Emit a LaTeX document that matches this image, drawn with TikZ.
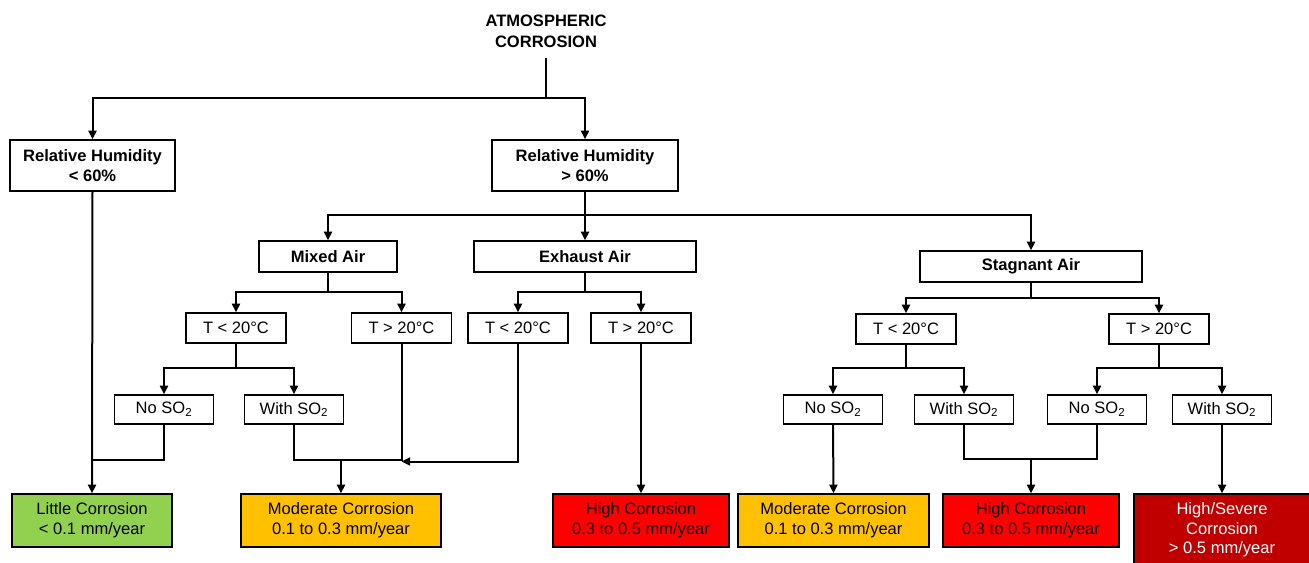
\documentclass[tikz,border=0pt]{standalone}
\usepackage{fontspec}
\setmainfont{Liberation Sans}
\usetikzlibrary{arrows.meta}
\definecolor{cgreen}{HTML}{92D050}
\definecolor{corange}{HTML}{FFC000}
\definecolor{cred}{HTML}{FF0000}
\definecolor{cdred}{HTML}{C00000}
\begin{document}
\begin{tikzpicture}[x=0.75pt,y=-0.75pt,
  every node/.style={font=\fontsize{12.4}{15}\selectfont, align=center, inner sep=0pt},
  box/.style={draw, line width=1pt, minimum width=75pt, minimum height=22.5pt},
  bbox/.style={box, font=\fontsize{12.4}{15}\selectfont\bfseries},
  sobox/.style={box, minimum width=74.5pt, minimum height=21.75pt},
  res/.style={box, minimum height=39.75pt},
  line/.style={line width=1.5pt},
  arr/.style={line width=1.5pt, -{Triangle[length=6.5pt,width=6pt]}}]
\useasboundingbox (0,0) rectangle (1309,562);

% title and first level
\node[font=\fontsize{12.4}{15.5}\selectfont\bfseries] (title) at (546,31) {ATMOSPHERIC\\CORROSION};
\node[bbox, minimum width=123.75pt, minimum height=38.25pt] (rh1) at (92.5,165.5) {Relative Humidity\\< 60\%};
\node[bbox, minimum width=139.5pt, minimum height=38.25pt] (rh2) at (585,165.5) {Relative Humidity\\> 60\%};

% air types
\node[bbox, minimum width=103.5pt, minimum height=23.25pt] (mixed) at (328,256.5) {Mixed Air};
\node[bbox, minimum width=166.5pt, minimum height=23.25pt] (exhaust) at (585,256.5) {Exhaust Air};
\node[bbox, minimum width=166.5pt, minimum height=23.25pt] (stag) at (1031,266.5) {Stagnant Air};

% temperatures
\node[box] (tm1) at (236,328) {T < 20°C};
\node[box] (tm2) at (401.5,328) {T > 20°C};
\node[box] (te1) at (518,328) {T < 20°C};
\node[box] (te2) at (641,328) {T > 20°C};
\node[box] (ts1) at (906,329) {T < 20°C};
\node[box] (ts2) at (1159,329) {T > 20°C};

% SO2
\node[sobox] (nm) at (164,409.5) {No SO\textsubscript{2}};
\node[sobox] (wm) at (294,409.5) {With SO\textsubscript{2}};
\node[sobox] (ns1) at (833,409.5) {No SO\textsubscript{2}};
\node[sobox] (ws1) at (964,409.5) {With SO\textsubscript{2}};
\node[sobox] (ns2) at (1097,409.5) {No SO\textsubscript{2}};
\node[sobox] (ws2) at (1222,409.5) {With SO\textsubscript{2}};

% results
\node[res, fill=cgreen, minimum width=120pt] (little) at (92,520.5) {Little Corrosion\\< 0.1 mm/year};
\node[res, fill=corange, minimum width=150pt] (mod1) at (341,520.5) {Moderate Corrosion\\0.1 to 0.3 mm/year};
\node[res, fill=cred, minimum width=132pt] (high1) at (641,520.5) {High Corrosion\\0.3 to 0.5 mm/year};
\node[res, fill=corange, minimum width=143.25pt] (mod2) at (833.5,520.5) {Moderate Corrosion\\0.1 to 0.3 mm/year};
\node[res, fill=cred, minimum width=132pt] (high2) at (1031,520.5) {High Corrosion\\0.3 to 0.5 mm/year};
\node[res, fill=cdred, text=white, minimum width=132pt, minimum height=54pt, font=\fontsize{12.4}{14.6}\selectfont] (severe) at (1222,530) {High/Severe\\Corrosion\\> 0.5 mm/year};

% junction coordinates
\coordinate (t0) at (546,58);
\coordinate (j0) at (546,98);
\coordinate (j1) at (585,215);
\coordinate (j2) at (328,292);
\coordinate (j3) at (585,292);
\coordinate (j4) at (1031,298);
\coordinate (j5) at (236,368);
\coordinate (j6) at (906,368);
\coordinate (j7) at (1159,368);
\coordinate (j8) at (92.5,460);
\coordinate (j9) at (401.5,460);
\coordinate (j9m) at (341,460);
\coordinate (j10) at (401.5,461.5);
\coordinate (j11) at (1031,459);

% connectors
\draw[line] (t0) -- (j0);
\draw[arr] (j0) -| (rh1.north);
\draw[arr] (j0) -| (rh2.north);

\draw[line] (rh2.south) -- (j1);
\draw[arr] (j1) -| (mixed.north);
\draw[arr] (j1) -- (exhaust.north);
\draw[arr] (j1) -| (stag.north);

\draw[line] (mixed.south) -- (j2);
\draw[arr] (j2) -| (tm1.north);
\draw[arr] (j2) -| (tm2.north);
\draw[line] (exhaust.south) -- (j3);
\draw[arr] (j3) -| (te1.north);
\draw[arr] (j3) -| (te2.north);
\draw[line] (stag.south) -- (j4);
\draw[arr] (j4) -| (ts1.north);
\draw[arr] (j4) -| (ts2.north);

\draw[line] (tm1.south) -- (j5);
\draw[arr] (j5) -| (nm.north);
\draw[arr] (j5) -| (wm.north);
\draw[line] (ts1.south) -- (j6);
\draw[arr] (j6) -| (ns1.north);
\draw[arr] (j6) -| (ws1.north);
\draw[line] (ts2.south) -- (j7);
\draw[arr] (j7) -| (ns2.north);
\draw[arr] (j7) -| (ws2.north);

\draw[arr] (rh1.south) -- (little.north);
\draw[line] (nm.south) |- (j8);
\draw[line] (wm.south) |- (j9) -- (tm2.south);
\draw[arr] (j9m) -- (mod1.north);
\draw[arr] (te1.south) |- (j10);
\draw[arr] (te2.south) -- (high1.north);
\draw[arr] (ns1.south) -- (mod2.north);
\draw[line] (ws1.south) |- (j11) -| (ns2.south);
\draw[arr] (j11) -- (high2.north);
\draw[arr] (ws2.south) -- (severe.north);
\end{tikzpicture}
\end{document}
